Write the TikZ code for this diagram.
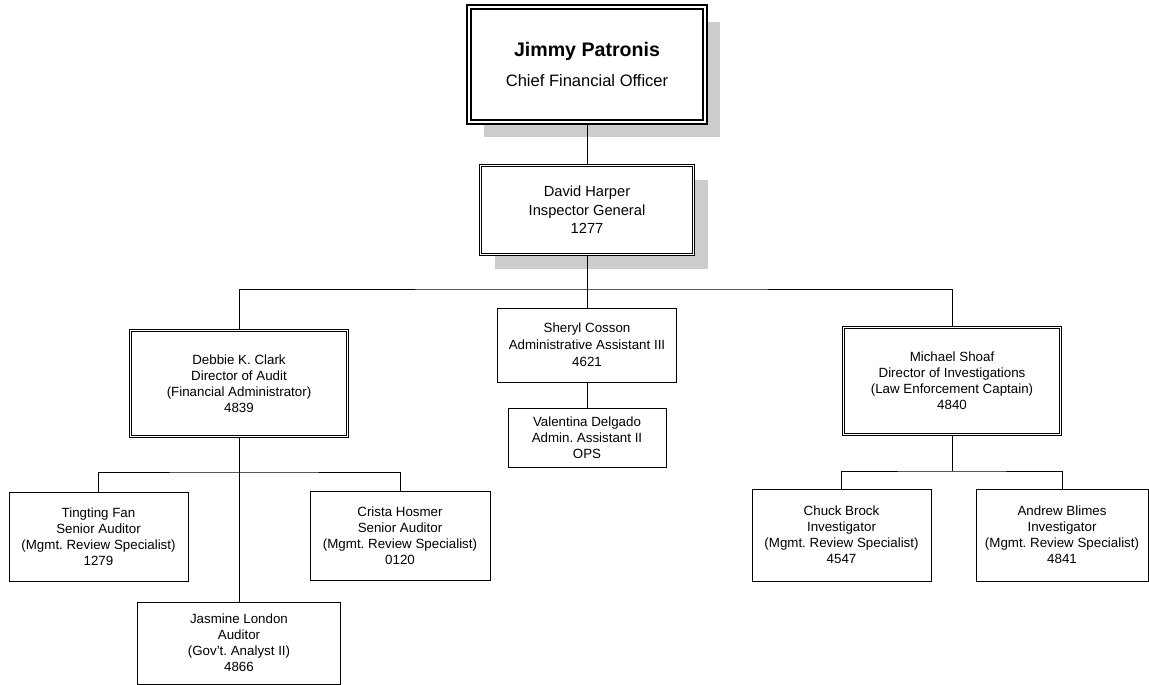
\documentclass[tikz,border=0pt]{standalone}
\usepackage{fontspec}
\setmainfont{Liberation Sans}
\usepackage{tikz}
\usetikzlibrary{shadows}
\frenchspacing
\tikzset{
  postbox/.style = {draw=black, fill=white, line width=0.7pt, align=center, inner sep=0pt,
    text centered, font=\fontsize{10}{12}\selectfont},
  leadbox/.style = {postbox, double, line width=0.6pt, double distance=1pt},
  topbox/.style = {postbox, double, line width=1.6pt, double distance=1.2pt},
  shadowed/.style = {drop shadow={shadow xshift=11pt, shadow yshift=-11pt,
    fill=black!20, opacity=1}},
  dims/.style 2 args = {minimum width=#1*0.75pt, minimum height=#2*0.75pt},
  link/.style = {draw=black, line width=0.7pt}
}

\begin{document}
\begin{tikzpicture}[x=0.75pt, y=-0.75pt]
\useasboundingbox (0,0) rectangle (1149,685);
% top of the office
\node [topbox, shadowed, dims={236}{115}, font=\fontsize{12.4}{22}\selectfont] (cfo) at (587,64.5)
  {\textbf{\fontsize{14.7}{22}\selectfont Jimmy Patronis}\\Chief Financial Officer};
\node [leadbox, shadowed, dims={213}{89}, font=\fontsize{11}{14}\selectfont] (ig) at (587,210)
  {David Harper\\Inspector General\\1277};
% directors and support
\node [leadbox, dims={217}{106}] (aud) at (239,383.5)
  {Debbie K. Clark\\Director of Audit\\(Financial Administrator)\\4839};
\node [postbox, dims={179}{74}, font=\fontsize{10}{12.8}\selectfont] (adm) at (587,345)
  {Sheryl Cosson\\Administrative Assistant III\\4621};
\node [postbox, dims={158}{59}] (ops) at (587,437.5)
  {Valentina Delgado\\Admin. Assistant II\\OPS};
\node [leadbox, dims={217}{107}] (inv) at (952,381)
  {Michael Shoaf\\Director of Investigations\\(Law Enforcement Captain)\\4840};
% audit staff
\node [postbox, dims={179}{89}] (fan) at (98.5,536.5)
  {Tingting Fan\\Senior Auditor\\(Mgmt. Review Specialist)\\1279};
\node [postbox, dims={180}{89}] (hos) at (400,535.5)
  {Crista Hosmer\\Senior Auditor\\(Mgmt. Review Specialist)\\0120};
\node [postbox, dims={203}{82}] (lon) at (239,643)
  {Jasmine London\\Auditor\\(Gov't. Analyst II)\\4866};
% investigations staff
\node [postbox, dims={179}{92}] (brock) at (841.5,535)
  {Chuck Brock\\Investigator\\(Mgmt. Review Specialist)\\4547};
\node [postbox, dims={172}{92}] (blimes) at (1062,535)
  {Andrew Blimes\\Investigator\\(Mgmt. Review Specialist)\\4841};
% lines
\coordinate (igbus) at (587,289);
\coordinate (audbus) at (239,472);
\coordinate (invbus) at (952,471);
\draw [link] (cfo.south) -- (ig.north);
\draw [link] (ig.south) -- (adm.north);
\draw [link] (aud.north) |- (igbus) -| (inv.north);
\draw [link] (adm.south) -- (ops.north);
\draw [link] (aud.south) -- (lon.north);
\draw [link] (fan.north) |- (audbus) -| (hos.north);
\draw [link] (inv.south) -- (invbus);
\draw [link] (brock.north) |- (invbus) -| (blimes.north);
\end{tikzpicture}
\end{document}
